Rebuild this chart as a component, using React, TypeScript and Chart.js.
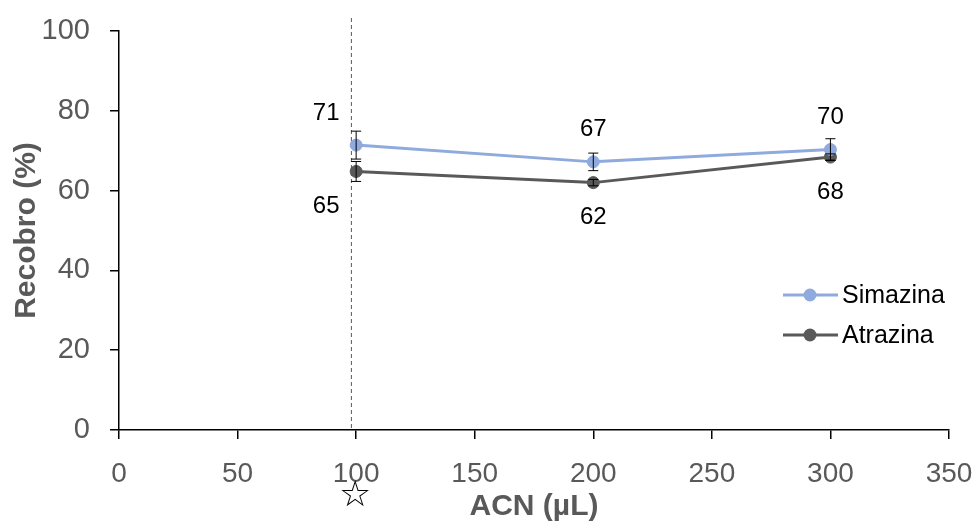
import { useEffect, useRef } from 'react';
import { Chart, registerables } from 'chart.js';

Chart.register(...registerables);

// Recovery (%) of each triazine versus acetonitrile volume
const acnVolumes = [100, 200, 300];
const simazinaRecovery = [71.4, 67.2, 70.3];
const atrazinaRecovery = [64.8, 62.0, 68.4];
const simazinaError = [3.5, 2.2, 2.7];
const atrazinaError = [2.5, 0.8, 0.8];
const seriesNames = ['Simazina', 'Atrazina'];
const seriesColors = ['#8FAADC', '#595959'];
const selectedVolume = 98; // dashed reference line
const starredVolume = 100; // volume chosen (star under the axis)
const xAxisTitle = 'ACN (µL)';
const yAxisTitle = 'Recobro (%)';

const FONT = '"Liberation Sans", Arial, Helvetica, sans-serif';
const AXIS_GRAY = '#595959';

const seriesValues = [simazinaRecovery, atrazinaRecovery];
const seriesErrors = [simazinaError, atrazinaError];

// vertical dashed line at the selected volume
const dashedLinePlugin = {
  id: 'dashedLine',
  beforeDatasetsDraw(chart: any) {
    const { ctx, chartArea, scales } = chart;
    const px = scales.x.getPixelForValue(selectedVolume);
    ctx.save();
    ctx.strokeStyle = '#595959';
    ctx.lineWidth = 1;
    ctx.setLineDash([4, 3]);
    ctx.beginPath();
    ctx.moveTo(px, chartArea.top - 13);
    ctx.lineTo(px, chartArea.bottom);
    ctx.stroke();
    ctx.restore();
  },
};

// standard-deviation whiskers
const errorBarPlugin = {
  id: 'errorBars',
  afterDatasetsDraw(chart: any) {
    const { ctx, scales } = chart;
    ctx.save();
    ctx.strokeStyle = '#000';
    ctx.lineWidth = 1;
    seriesValues.forEach((series, s) => {
      series.forEach((v, i) => {
        const px = scales.x.getPixelForValue(acnVolumes[i]);
        const top = scales.y.getPixelForValue(v + seriesErrors[s][i]);
        const bot = scales.y.getPixelForValue(v - seriesErrors[s][i]);
        ctx.beginPath();
        ctx.moveTo(px, top);
        ctx.lineTo(px, bot);
        ctx.moveTo(px - 5, top);
        ctx.lineTo(px + 5, top);
        ctx.moveTo(px - 5, bot);
        ctx.lineTo(px + 5, bot);
        ctx.stroke();
      });
    });
    ctx.restore();
  },
};

// value labels: Simazina above, Atrazina below
const valueLabelPlugin = {
  id: 'valueLabels',
  afterDatasetsDraw(chart: any) {
    const { ctx, scales } = chart;
    ctx.save();
    ctx.fillStyle = '#000';
    ctx.font = `24px ${FONT}`;
    ctx.textAlign = 'center';
    ctx.textBaseline = 'middle';
    seriesValues.forEach((series, s) => {
      series.forEach((v, i) => {
        const px = scales.x.getPixelForValue(acnVolumes[i]) + (i === 0 ? -30 : 0);
        const py = scales.y.getPixelForValue(v) + (s === 0 ? -32 : 35);
        ctx.fillText(String(Math.round(v)), px, py);
      });
    });
    ctx.restore();
  },
};

// legend with line + marker swatches, and the star under the chosen volume
const decorPlugin = {
  id: 'decor',
  afterDraw(chart: any) {
    const { ctx, chartArea, scales } = chart;
    ctx.save();
    seriesNames.forEach((name, s) => {
      const y = chartArea.top + 264 + s * 40;
      const x0 = chartArea.right - 166;
      ctx.strokeStyle = seriesColors[s];
      ctx.lineWidth = 3;
      ctx.beginPath();
      ctx.moveTo(x0, y);
      ctx.lineTo(x0 + 55, y);
      ctx.stroke();
      ctx.fillStyle = seriesColors[s];
      ctx.beginPath();
      ctx.arc(x0 + 27, y, 6.5, 0, Math.PI * 2);
      ctx.fill();
      ctx.fillStyle = '#000';
      ctx.font = `25px ${FONT}`;
      ctx.textAlign = 'left';
      ctx.textBaseline = 'middle';
      ctx.fillText(name, x0 + 59, y + 1);
    });
    const sx = scales.x.getPixelForValue(starredVolume);
    ctx.fillStyle = '#000';
    ctx.font = '36px "DejaVu Sans", sans-serif';
    ctx.textAlign = 'center';
    ctx.textBaseline = 'middle';
    ctx.fillText('☆', sx - 1, chart.height - 28);
    ctx.restore();
  },
};

export default function App() {
  const canvasRef = useRef<HTMLCanvasElement | null>(null);

  useEffect(() => {
    const canvas = canvasRef.current;
    if (!canvas) return;
    const chart = new Chart(canvas, {
      type: 'line',
      data: {
        datasets: seriesNames.map((name, s) => ({
          label: name,
          data: acnVolumes.map((x, i) => ({ x, y: seriesValues[s][i] })),
          borderColor: seriesColors[s],
          backgroundColor: seriesColors[s],
          borderWidth: 3,
          pointRadius: 6,
          pointHoverRadius: 6,
          pointBorderWidth: 1,
          pointBackgroundColor: seriesColors[s],
          pointBorderColor: seriesColors[s],
          tension: 0,
        })),
      },
      options: {
        responsive: false,
        animation: false,
        events: [],
        layout: { padding: { top: 31, right: 27, left: 0, bottom: 0 } },
        plugins: {
          legend: { display: false },
          tooltip: { enabled: false },
        },
        scales: {
          x: {
            type: 'linear',
            min: 0,
            max: 350,
            ticks: {
              stepSize: 50,
              color: AXIS_GRAY,
              font: { family: FONT, size: 28 },
              padding: 18,
              maxRotation: 0,
            },
            grid: { drawOnChartArea: false, drawTicks: true, tickLength: 9, color: '#000', lineWidth: 1.5 },
            border: { display: true, color: '#000', width: 1.5 },
            title: {
              display: true,
              text: xAxisTitle,
              color: AXIS_GRAY,
              font: { family: FONT, size: 30, weight: 'bold' },
              padding: { top: 0, bottom: 0 },
            },
            afterFit(scale: any) {
              scale.height = 95;
              scale.paddingLeft = 0;
              scale.paddingRight = 0;
            },
          },
          y: {
            min: 0,
            max: 100,
            ticks: {
              stepSize: 20,
              color: AXIS_GRAY,
              font: { family: FONT, size: 29 },
              padding: 20,
            },
            grid: { drawOnChartArea: false, drawTicks: true, tickLength: 9, color: '#000', lineWidth: 1.5 },
            border: { display: true, color: '#000', width: 1.5 },
            title: {
              display: true,
              text: yAxisTitle,
              color: AXIS_GRAY,
              font: { family: FONT, size: 30, weight: 'bold' },
              padding: { top: 9, bottom: 0 },
            },
            afterFit(scale: any) {
              scale.width = 119;
              scale.paddingTop = 0;
              scale.paddingBottom = 0;
            },
          },
        },
      },
      plugins: [dashedLinePlugin, errorBarPlugin, valueLabelPlugin, decorPlugin],
    });
    return () => chart.destroy();
  }, []);

  return (
    <div style={{ position: 'absolute', left: 0, top: 0, width: 976, height: 525, background: '#fff' }}>
      <canvas ref={canvasRef} width={976} height={525} />
    </div>
  );
}
